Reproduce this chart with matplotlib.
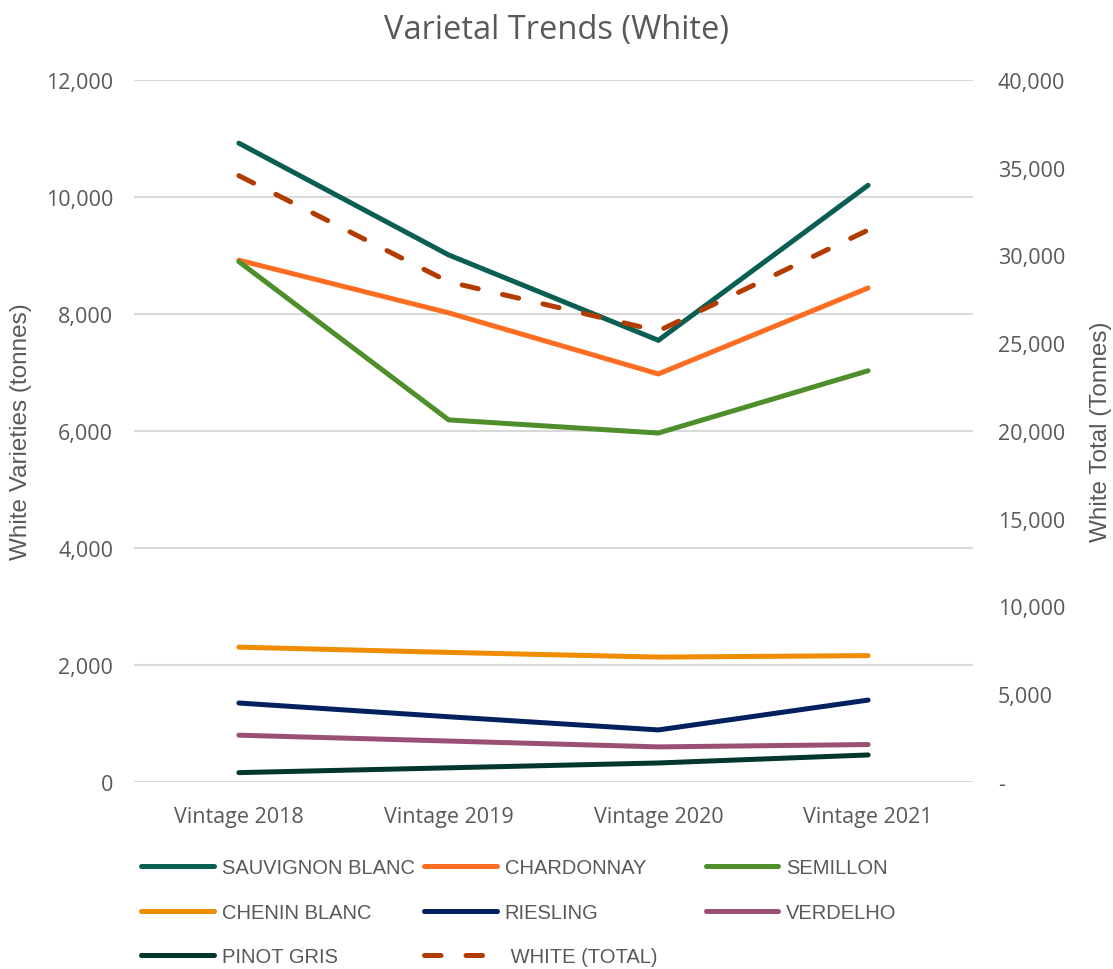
import matplotlib.pyplot as plt
import matplotlib.ticker as mticker
from matplotlib.lines import Line2D

vintages = ['Vintage 2018', 'Vintage 2019', 'Vintage 2020', 'Vintage 2021']

sauvignon_blanc = [10920, 9010, 7550, 10200]
chardonnay = [8920, 8020, 6975, 8445]
semillon = [8895, 6190, 5965, 7030]
chenin_blanc = [2305, 2215, 2135, 2160]
riesling = [1350, 1115, 890, 1400]
verdelho = [800, 700, 600, 640]
pinot_gris = [160, 242, 325, 462]
white_total = [34550, 28500, 25700, 31450]

left_ticks = [0, 2000, 4000, 6000, 8000, 10000, 12000]
right_ticks = [0, 5000, 10000, 15000, 20000, 25000, 30000, 35000, 40000]

TXT = '#595959'
NARROW = ['Liberation Sans', 'DejaVu Sans']
DASH = (3.3, 5.0)

series = [
    ('SAUVIGNON BLANC', sauvignon_blanc, '#0b5e52'),
    ('CHARDONNAY', chardonnay, '#ff6d22'),
    ('SEMILLON', semillon, '#4e8f2c'),
    ('CHENIN BLANC', chenin_blanc, '#ef8c00'),
    ('RIESLING', riesling, '#03215f'),
    ('VERDELHO', verdelho, '#9a5074'),
    ('PINOT GRIS', pinot_gris, '#03372e'),
]
total_color = '#b23c00'

plt.rcParams['font.family'] = ['Open Sans', 'DejaVu Sans']

fig = plt.figure(figsize=(11.13, 9.7), dpi=100)
ax = fig.add_axes([0.1204, 0.1928, 0.7538, 0.7237])
ax2 = ax.twinx()

x = list(range(len(vintages)))
for name, vals, col in series:
    ax.plot(x, vals, color=col, lw=3.6, solid_capstyle='round', solid_joinstyle='miter', zorder=3)
ax2.plot(x, white_total, color=total_color, lw=3.6, dashes=DASH,
         dash_capstyle='round', zorder=3)

ax.set_xlim(-0.5, 3.5)
ax.set_ylim(0, 12000)
ax2.set_ylim(0, 40000)
ax.set_yticks(left_ticks)
ax2.set_yticks(right_ticks)
ax.yaxis.set_major_formatter(mticker.FuncFormatter(lambda v, p: '{:,.0f}'.format(v)))
ax2.yaxis.set_major_formatter(mticker.FuncFormatter(lambda v, p: '-' if v == 0 else '{:,.0f}'.format(v)))
ax.set_xticks(x)
ax.set_xticklabels(vintages)

ax.grid(axis='y', color='#d9d9d9', lw=1.5, zorder=0)
ax.set_axisbelow(True)
for a in (ax, ax2):
    for s in a.spines.values():
        s.set_visible(False)
ax.tick_params(axis='both', length=0, labelsize=15.5, labelcolor=TXT)
ax.tick_params(axis='y', pad=15)
ax.tick_params(axis='x', pad=17)
ax2.tick_params(axis='y', length=0, labelsize=15.5, labelcolor=TXT, pad=18)

ax.set_ylabel('White Varieties (tonnes)', fontsize=17.5, color=TXT, family=NARROW)
ax2.set_ylabel('White Total (Tonnes)', fontsize=17.5, color=TXT, family=NARROW, rotation=90)
ax.yaxis.set_label_coords(-0.121, 0.5)
ax2.yaxis.set_label_coords(1.1395, 0.5)

fig.text(0.5, 0.969, 'Varietal Trends (White)', ha='center', va='center',
         fontsize=23.5, color=TXT)

# legend laid out row by row, three columns like the original
handles = [Line2D([], [], color=c, lw=3.6, solid_capstyle='round') for _, _, c in series]
labels = [n for n, _, _ in series]
handles.append(Line2D([], [], color=total_color, lw=3.6, dashes=DASH, dash_capstyle='round'))
labels.append(' WHITE (TOTAL)')

col_x = [0.127, 0.381, 0.634]
for c in range(3):
    idx = list(range(c, len(handles), 3))
    leg = fig.legend([handles[i] for i in idx], [labels[i] for i in idx],
                     loc='upper left', bbox_to_anchor=(col_x[c], 0.1145),
                     frameon=False, handlelength=3.6, handletextpad=0.4,
                     labelspacing=1.28, borderaxespad=0, borderpad=0,
                     prop={'family': NARROW, 'size': 14.5})
    for t in leg.get_texts():
        t.set_color(TXT)

fig.savefig('out.png', dpi=100)
